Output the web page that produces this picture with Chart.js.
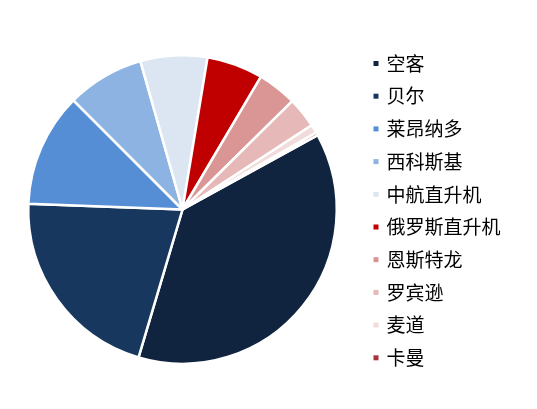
<!DOCTYPE html>
<html>
<head>
<meta charset="utf-8">
<script src="https://cdn.jsdelivr.net/npm/chart.js@4/dist/chart.umd.min.js"></script>
<style>
  html, body { margin: 0; padding: 0; background: #fff; }
  #wrap { width: 537px; height: 409px; position: relative; }
</style>
</head>
<body>
<div id="wrap"><canvas id="pie"></canvas></div>
<script>
// Helicopter makers — share of fleet (%)
const makers = ["空客", "贝尔", "莱昂纳多", "西科斯基", "中航直升机", "俄罗斯直升机", "恩斯特龙", "罗宾逊", "麦道", "卡曼"];
const shares = [37.6, 21.0, 11.9, 8.1, 7.0, 5.9, 4.1, 3.2, 0.9, 0.3];
const sliceColors = ["#10243f", "#17375e", "#558ed5", "#8db3e2", "#dce6f2", "#c00000", "#d99694", "#e6b9b8", "#f2dcdb", "#a5343c"];

// ----------------- Side legend ----------------
// Drawn by hand so rows sit exactly where the reference has them.
const sideLegend = {
  id: "sideLegend",
  afterDraw(chart) {
    const ctx = chart.ctx;
    const colors = chart.data.datasets[0].backgroundColor;
    ctx.save();
    ctx.font = '19px "Noto Sans CJK SC", sans-serif';
    ctx.textBaseline = "middle";
    chart.data.labels.forEach((label, i) => {
      const y = 63.5 + i * 32.7;
      ctx.fillStyle = colors[i];
      ctx.fillRect(373.5, y - 2.5, 5, 5);
      ctx.fillStyle = "#000";
      ctx.fillText(label, 386.5, y);
    });
    ctx.restore();
  }
};

new Chart(document.getElementById("pie"), {
  type: "pie",
  data: {
    labels: makers,
    datasets: [{
      data: shares,
      backgroundColor: sliceColors,
      borderColor: "#ffffff",
      borderWidth: 2.5,
      hoverOffset: 0
    }]
  },
  options: {
    responsive: true,
    maintainAspectRatio: false,
    animation: false,
    rotation: 61.2,
    layout: { padding: { left: 27, right: 199, top: 54, bottom: 44 } },
    plugins: {
      legend: { display: false },
      tooltip: { enabled: false }
    }
  },
  plugins: [sideLegend]
});
</script>
</body>
</html>
